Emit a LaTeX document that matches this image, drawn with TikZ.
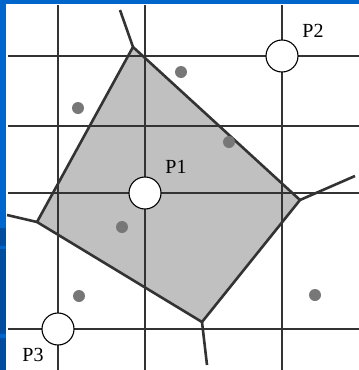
\documentclass[tikz,border=0pt]{standalone}
\usepackage{fontspec}
\setmainfont{Liberation Serif}
\definecolor{frameblue}{HTML}{0066CC}
\definecolor{darkblue}{HTML}{004C9E}
\definecolor{cellgray}{HTML}{C0C0C0}
\definecolor{edgegray}{HTML}{333333}
\definecolor{dotgray}{HTML}{777777}
\begin{document}
\begin{tikzpicture}[x=1pt,y=-1pt,
  gridline/.style={draw=black!80, line width=1.1pt},
  celledge/.style={draw=edgegray, line width=2.6pt, line join=round},
  site/.style={circle, draw=black, line width=1.1pt, fill=white, minimum size=32pt, inner sep=0pt},
  sample/.style={circle, fill=dotgray, minimum size=12pt, inner sep=0pt},
  lbl/.style={font=\fontsize{20}{20}\selectfont, inner sep=0pt}]
\useasboundingbox (0,0) rectangle (359,370);
\fill[white] (0,0) rectangle (359,370);
\fill[frameblue] (0,0) rectangle (359,4);
\fill[frameblue] (0,0) rectangle (6,370);
\fill[darkblue] (0,228) rectangle (6,370);
\fill[frameblue] (0,246) rectangle (6,249);
\fill[frameblue] (0,334) rectangle (6,338);
% Voronoi cell
\coordinate (vt) at (133,47);
\coordinate (vr) at (300,200);
\coordinate (vb) at (202,322);
\coordinate (vl) at (37,222);
\fill[cellgray] (vt) -- (vr) -- (vb) -- (vl) -- cycle;
% grid
\coordinate (h1a) at (8,56);  \coordinate (h1b) at (359,56);
\coordinate (h2a) at (8,126); \coordinate (h2b) at (359,126);
\coordinate (h3a) at (8,193); \coordinate (h3b) at (359,193);
\coordinate (h4a) at (8,329); \coordinate (h4b) at (359,329);
\coordinate (v1a) at (58,5);  \coordinate (v1b) at (58,370);
\coordinate (v2a) at (145,5); \coordinate (v2b) at (145,370);
\coordinate (v3a) at (282,5); \coordinate (v3b) at (282,370);
\draw[gridline] (h1a) -- (h1b);
\draw[gridline] (h2a) -- (h2b);
\draw[gridline] (h3a) -- (h3b);
\draw[gridline] (h4a) -- (h4b);
\draw[gridline] (v1a) -- (v1b);
\draw[gridline] (v2a) -- (v2b);
\draw[gridline] (v3a) -- (v3b);
% cell edges and rays
\coordinate (rt) at (120,10);
\coordinate (rr) at (355,176);
\coordinate (rb) at (207,365);
\coordinate (rl) at (7,215);
\draw[celledge] (vt) -- (vr) -- (vb) -- (vl) -- cycle;
\draw[celledge] (vt) -- (rt);
\draw[celledge] (vr) -- (rr);
\draw[celledge] (vb) -- (rb);
\draw[celledge] (vl) -- (rl);
% sample dots
\node[sample] (d1) at (181,72) {};
\node[sample] (d2) at (78,108) {};
\node[sample] (d3) at (229,142) {};
\node[sample] (d4) at (122,227) {};
\node[sample] (d5) at (79,296) {};
\node[sample] (d6) at (315,295) {};
% sites
\node[site] (p1) at (145,193) {};
\node[site] (p2) at (282,56) {};
\node[site] (p3) at (58,329) {};
\node[lbl] (l1) at (176,167) {P1};
\node[lbl] (l2) at (313,31) {P2};
\node[lbl] (l3) at (33,355) {P3};
\end{tikzpicture}
\end{document}
